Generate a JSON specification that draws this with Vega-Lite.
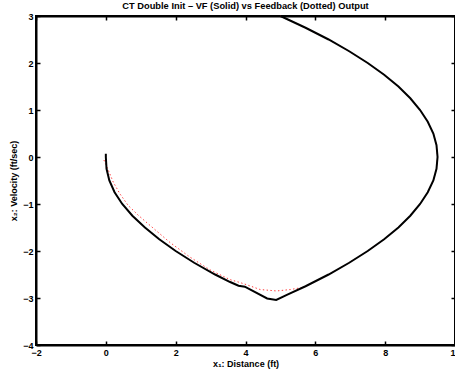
{
  "$schema": "https://vega.github.io/schema/vega-lite/v6.json",
  "autosize": {"type": "none"},
  "width": 419,
  "height": 329,
  "padding": {"left": 36, "top": 16, "right": 0, "bottom": 30},
  "background": "white",
  "view": {"stroke": "black", "strokeWidth": 2},
  "title": {
    "text": "CT Double Init – VF (Solid) vs Feedback (Dotted) Output",
    "font": "Liberation Sans",
    "fontSize": 9.3,
    "fontWeight": "bold",
    "color": "black",
    "anchor": "middle",
    "offset": 4,
    "dy": 3
  },
  "config": {
    "axis": {
      "grid": false,
      "labelFont": "Liberation Sans",
      "labelFontSize": 9,
      "labelFontWeight": "bold",
      "labelColor": "black",
      "titleFont": "Liberation Sans",
      "titleFontSize": 9,
      "titleFontWeight": "bold",
      "titleColor": "black",
      "domainColor": "black",
      "domainWidth": 2,
      "tickColor": "black",
      "tickWidth": 1.5,
      "tickSize": -4,
      "labelFlush": false,
      "labelOverlap": false,
      "labelBound": false
    }
  },
  "datasets": {
    "traj": [
      {"series": "VF", "i": 1, "x1": 5.0, "x2": 3.0},
      {"series": "VF", "i": 2, "x1": 5.72, "x2": 2.75},
      {"series": "VF", "i": 3, "x1": 6.38, "x2": 2.5},
      {"series": "VF", "i": 4, "x1": 6.97, "x2": 2.25},
      {"series": "VF", "i": 5, "x1": 7.5, "x2": 2.0},
      {"series": "VF", "i": 6, "x1": 7.97, "x2": 1.75},
      {"series": "VF", "i": 7, "x1": 8.38, "x2": 1.5},
      {"series": "VF", "i": 8, "x1": 8.72, "x2": 1.25},
      {"series": "VF", "i": 9, "x1": 9.0, "x2": 1.0},
      {"series": "VF", "i": 10, "x1": 9.22, "x2": 0.75},
      {"series": "VF", "i": 11, "x1": 9.38, "x2": 0.5},
      {"series": "VF", "i": 12, "x1": 9.47, "x2": 0.25},
      {"series": "VF", "i": 13, "x1": 9.5, "x2": 0.0},
      {"series": "VF", "i": 14, "x1": 9.47, "x2": -0.25},
      {"series": "VF", "i": 15, "x1": 9.38, "x2": -0.5},
      {"series": "VF", "i": 16, "x1": 9.22, "x2": -0.75},
      {"series": "VF", "i": 17, "x1": 9.0, "x2": -1.0},
      {"series": "VF", "i": 18, "x1": 8.72, "x2": -1.25},
      {"series": "VF", "i": 19, "x1": 8.38, "x2": -1.5},
      {"series": "VF", "i": 20, "x1": 7.97, "x2": -1.75},
      {"series": "VF", "i": 21, "x1": 7.5, "x2": -2.0},
      {"series": "VF", "i": 22, "x1": 6.97, "x2": -2.25},
      {"series": "VF", "i": 23, "x1": 6.38, "x2": -2.5},
      {"series": "VF", "i": 24, "x1": 5.72, "x2": -2.75},
      {"series": "VF", "i": 25, "x1": 5.2, "x2": -2.93},
      {"series": "VF", "i": 26, "x1": 4.88, "x2": -3.04},
      {"series": "VF", "i": 27, "x1": 4.62, "x2": -3.01},
      {"series": "VF", "i": 28, "x1": 3.98, "x2": -2.76},
      {"series": "VF", "i": 29, "x1": 3.8, "x2": -2.74},
      {"series": "VF", "i": 30, "x1": 3.56, "x2": -2.66},
      {"series": "VF", "i": 31, "x1": 3.13, "x2": -2.5},
      {"series": "VF", "i": 32, "x1": 2.53, "x2": -2.25},
      {"series": "VF", "i": 33, "x1": 2.0, "x2": -2.0},
      {"series": "VF", "i": 34, "x1": 1.53, "x2": -1.75},
      {"series": "VF", "i": 35, "x1": 1.12, "x2": -1.5},
      {"series": "VF", "i": 36, "x1": 0.76, "x2": -1.25},
      {"series": "VF", "i": 37, "x1": 0.47, "x2": -1.0},
      {"series": "VF", "i": 38, "x1": 0.25, "x2": -0.75},
      {"series": "VF", "i": 39, "x1": 0.1, "x2": -0.5},
      {"series": "VF", "i": 40, "x1": 0.02, "x2": -0.25},
      {"series": "VF", "i": 41, "x1": 0.0, "x2": 0.0},
      {"series": "VF", "i": 42, "x1": 0.0, "x2": 0.07},
      {"series": "FB", "i": 1, "x1": 5.0, "x2": 3.0},
      {"series": "FB", "i": 2, "x1": 5.72, "x2": 2.75},
      {"series": "FB", "i": 3, "x1": 6.38, "x2": 2.5},
      {"series": "FB", "i": 4, "x1": 6.97, "x2": 2.25},
      {"series": "FB", "i": 5, "x1": 7.5, "x2": 2.0},
      {"series": "FB", "i": 6, "x1": 7.97, "x2": 1.75},
      {"series": "FB", "i": 7, "x1": 8.38, "x2": 1.5},
      {"series": "FB", "i": 8, "x1": 8.72, "x2": 1.25},
      {"series": "FB", "i": 9, "x1": 9.0, "x2": 1.0},
      {"series": "FB", "i": 10, "x1": 9.22, "x2": 0.75},
      {"series": "FB", "i": 11, "x1": 9.38, "x2": 0.5},
      {"series": "FB", "i": 12, "x1": 9.47, "x2": 0.25},
      {"series": "FB", "i": 13, "x1": 9.5, "x2": 0.0},
      {"series": "FB", "i": 14, "x1": 9.47, "x2": -0.25},
      {"series": "FB", "i": 15, "x1": 9.38, "x2": -0.5},
      {"series": "FB", "i": 16, "x1": 9.22, "x2": -0.75},
      {"series": "FB", "i": 17, "x1": 9.0, "x2": -1.0},
      {"series": "FB", "i": 18, "x1": 8.72, "x2": -1.25},
      {"series": "FB", "i": 19, "x1": 8.38, "x2": -1.5},
      {"series": "FB", "i": 20, "x1": 7.97, "x2": -1.75},
      {"series": "FB", "i": 21, "x1": 7.5, "x2": -2.0},
      {"series": "FB", "i": 22, "x1": 6.97, "x2": -2.25},
      {"series": "FB", "i": 23, "x1": 6.38, "x2": -2.5},
      {"series": "FB", "i": 24, "x1": 5.72, "x2": -2.75},
      {"series": "FB", "i": 25, "x1": 5.6, "x2": -2.78},
      {"series": "FB", "i": 26, "x1": 5.28, "x2": -2.82},
      {"series": "FB", "i": 27, "x1": 4.89, "x2": -2.85},
      {"series": "FB", "i": 28, "x1": 4.42, "x2": -2.82},
      {"series": "FB", "i": 29, "x1": 4.08, "x2": -2.73},
      {"series": "FB", "i": 30, "x1": 3.84, "x2": -2.67},
      {"series": "FB", "i": 31, "x1": 3.56, "x2": -2.61},
      {"series": "FB", "i": 32, "x1": 2.98, "x2": -2.4},
      {"series": "FB", "i": 33, "x1": 2.41, "x2": -2.13},
      {"series": "FB", "i": 34, "x1": 1.84, "x2": -1.82},
      {"series": "FB", "i": 35, "x1": 1.21, "x2": -1.42},
      {"series": "FB", "i": 36, "x1": 0.93, "x2": -1.24},
      {"series": "FB", "i": 37, "x1": 0.64, "x2": -1.03},
      {"series": "FB", "i": 38, "x1": 0.4, "x2": -0.78},
      {"series": "FB", "i": 39, "x1": 0.21, "x2": -0.53},
      {"series": "FB", "i": 40, "x1": 0.07, "x2": -0.28},
      {"series": "FB", "i": 41, "x1": -0.08, "x2": -0.02}
    ]
  },
  "data": {"name": "traj"},
  "resolve": {"axis": {"x": "independent", "y": "independent"}},
  "layer": [
    {
      "transform": [{"filter": "datum.series === 'FB'"}],
      "mark": {"type": "line", "color": "#ff3b3b", "strokeWidth": 1, "strokeDash": [1.4, 2.4]},
      "encoding": {
        "x": {
          "field": "x1", "type": "quantitative",
          "scale": {"domain": [-2, 10], "nice": false, "zero": false},
          "axis": {"orient": "bottom", "values": [-2, 0, 2, 4, 6, 8, 10], "labelPadding": 7, "title": "x₁: Distance (ft)", "titlePadding": 2}
        },
        "y": {
          "field": "x2", "type": "quantitative",
          "scale": {"domain": [-4, 3], "nice": false, "zero": false},
          "axis": {"orient": "left", "values": [-4, -3, -2, -1, 0, 1, 2, 3], "labelPadding": 7, "title": "x₂: Velocity (ft/sec)", "titlePadding": 4}
        },
        "order": {"field": "i", "type": "quantitative"}
      }
    },
    {
      "transform": [{"filter": "datum.series === 'VF'"}],
      "mark": {"type": "line", "color": "black", "strokeWidth": 2},
      "encoding": {
        "x": {
          "field": "x1", "type": "quantitative",
          "axis": {"orient": "top", "values": [-2, 0, 2, 4, 6, 8, 10], "labels": false, "title": null}
        },
        "y": {
          "field": "x2", "type": "quantitative",
          "axis": {"orient": "right", "values": [-4, -3, -2, -1, 0, 1, 2, 3], "labels": false, "title": null}
        },
        "order": {"field": "i", "type": "quantitative"}
      }
    }
  ]
}
